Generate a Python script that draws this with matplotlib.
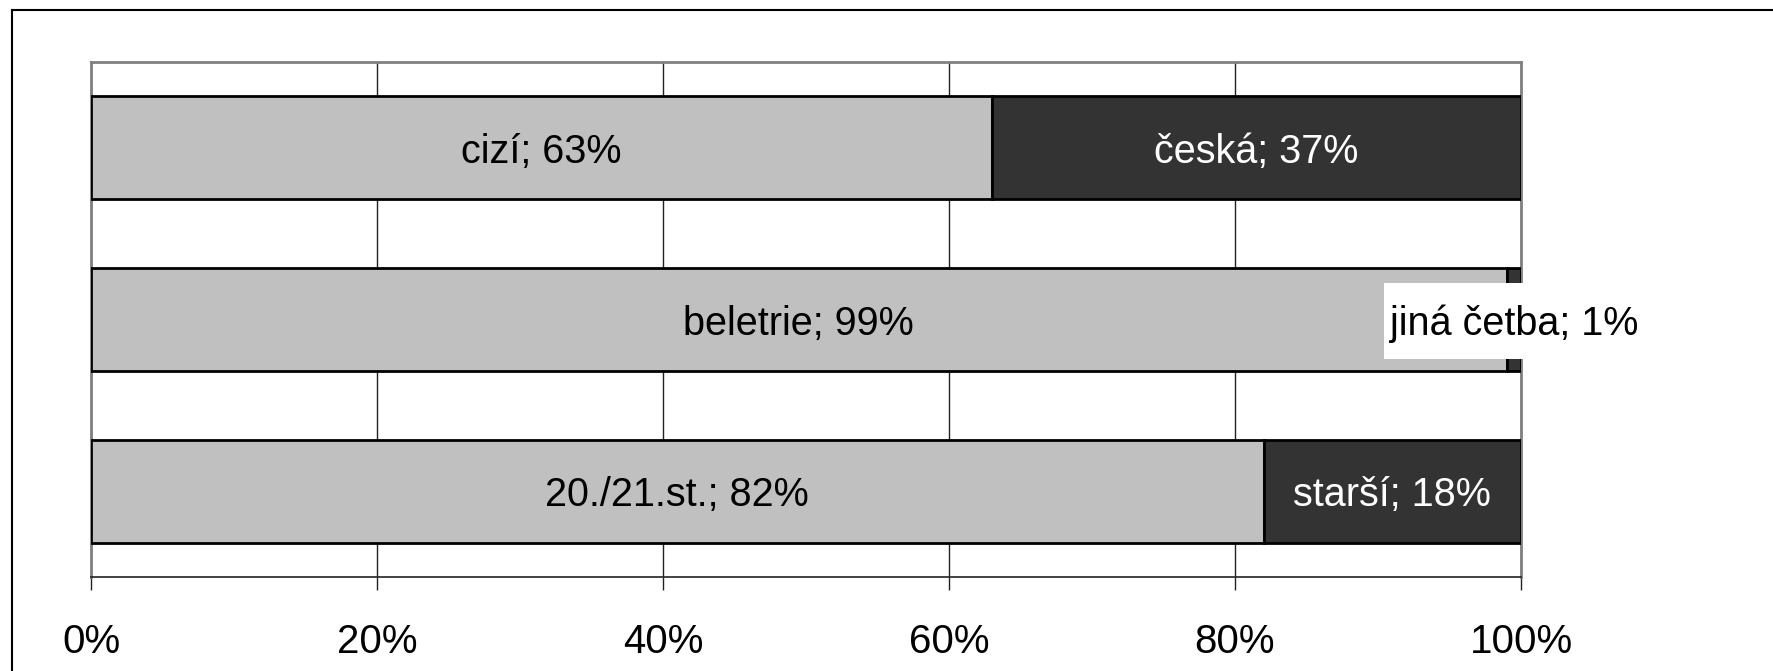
import matplotlib.pyplot as plt
from matplotlib.lines import Line2D
from matplotlib.patches import Rectangle

plt.rcParams['font.family'] = ['Liberation Sans', 'DejaVu Sans']

# data (top bar first)
first_names = ['cizí', 'beletrie', '20./21.st.']
first_vals = [63, 99, 82]
second_names = ['česká', 'jiná četba', 'starší']
second_vals = [37, 1, 18]
xticks = [0, 20, 40, 60, 80, 100]
xtick_labels = ['0%', '20%', '40%', '60%', '80%', '100%']

fig = plt.figure(figsize=(17.73, 6.71), dpi=100)
ax = fig.add_axes([91/1773, 94/671, 1430/1773, 515/671])

pos = list(range(len(first_vals)))
ax.barh(pos, first_vals, height=0.6, color='#c0c0c0', edgecolor='black', lw=2, zorder=3)
ax.barh(pos, second_vals, left=first_vals, height=0.6, color='#333333', edgecolor='black', lw=2, zorder=3)

fs = 28.5
boxed = []
for i in pos:
    ax.text(first_vals[i] / 2, i, f'{first_names[i]}; {first_vals[i]}%',
            ha='center', va='center_baseline', fontsize=fs, color='black', zorder=4)
    xc = first_vals[i] + second_vals[i] / 2
    if second_vals[i] < 5:
        t = ax.text(xc, i, f'{second_names[i]}; {second_vals[i]}%', ha='center',
                    va='center_baseline', fontsize=fs, color='black', zorder=6)
        boxed.append(t)
    else:
        ax.text(xc, i, f'{second_names[i]}; {second_vals[i]}%', ha='center', va='center_baseline',
                fontsize=fs, color='white', zorder=4)

ax.set_xlim(0, 100)
ax.set_ylim(len(pos) - 0.5, -0.5)
ax.set_xticks(xticks)
ax.set_xticklabels(xtick_labels, fontsize=29)
ax.set_yticks([])
ax.tick_params(axis='x', length=9.5, width=1, color='#222222', pad=23.5)
ax.grid(axis='x', color='#222222', lw=1, zorder=0)
for s in ['top', 'left', 'right']:
    ax.spines[s].set_color('#808080')
    ax.spines[s].set_linewidth(2)
ax.spines['bottom'].set_color('#222222')
ax.spines['bottom'].set_linewidth(1.2)

# white box behind the small label, a bit taller than the text
renderer = fig.canvas.get_renderer()
for t in boxed:
    bb = t.get_window_extent(renderer)
    x0, y0 = bb.x0 - 6, bb.y0 - 16
    w, h = bb.width + 12, bb.height + 37
    rect = Rectangle((x0, y0), w, h, transform=None, fc='white', ec='none', zorder=5)
    rect.set_clip_on(False)
    fig.add_artist(rect)
    t.set_zorder(7)
    t.remove()
    fig.add_artist(t)

# outer frame (top and left edges visible)
fig.add_artist(Line2D([12/1773, 1], [1 - 10/671, 1 - 10/671], color='black', lw=1.5))
fig.add_artist(Line2D([12/1773, 12/1773], [0, 1 - 10/671], color='black', lw=1.5))

fig.savefig('out.png', dpi=100)
